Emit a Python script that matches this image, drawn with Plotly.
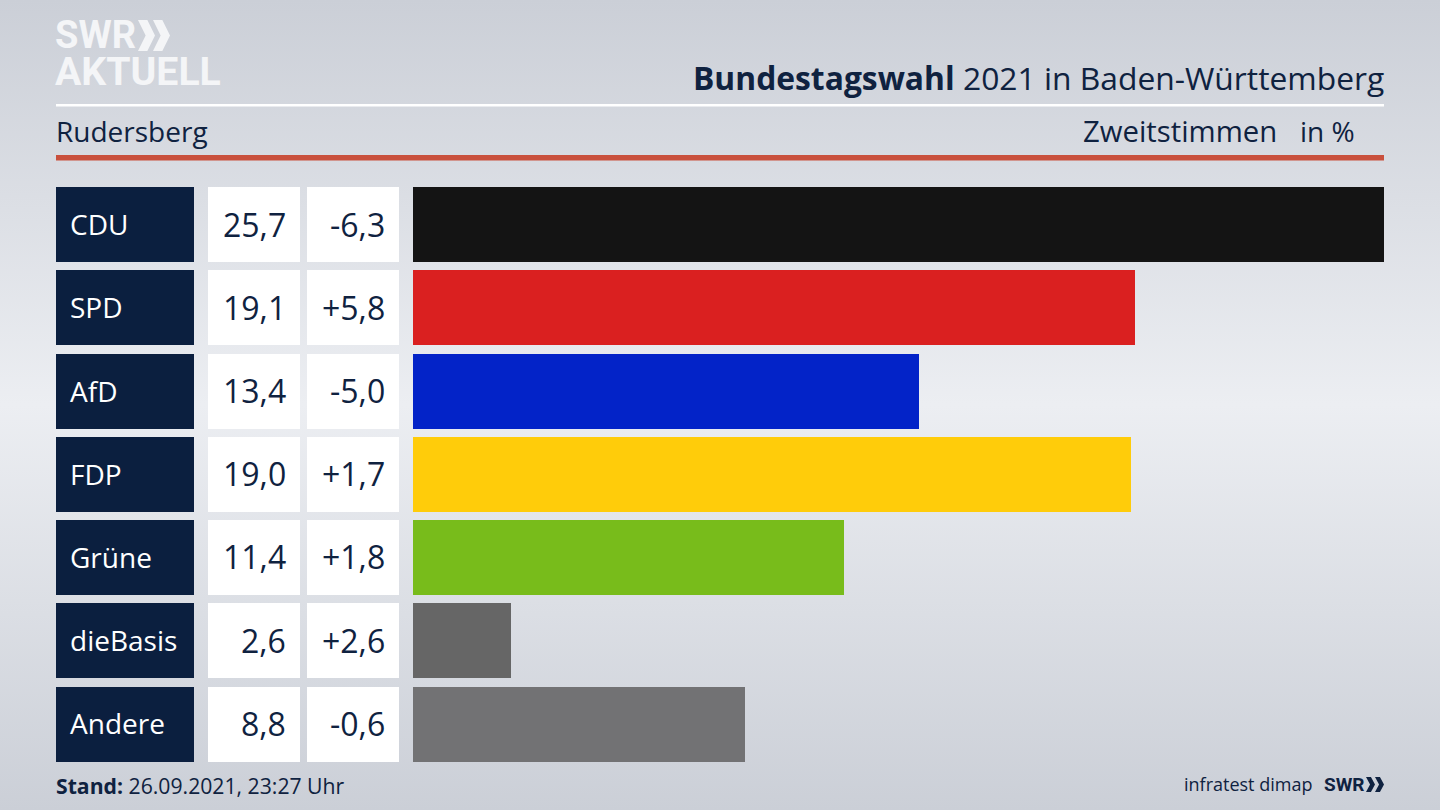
import base64
import plotly.graph_objects as go

parties = ["CDU", "SPD", "AfD", "FDP", "Grüne", "dieBasis", "Andere"]
shares = [25.7, 19.1, 13.4, 19.0, 11.4, 2.6, 8.8]
changes = [-6.3, 5.8, -5.0, 1.7, 1.8, 2.6, -0.6]
bar_colors = ["#141414", "#da2020", "#0323c8", "#ffcc0a", "#78bc1b", "#666666", "#727274"]

W, H = 1440, 810
NAVY = "#0f2240"
FONT = "Open Sans"
LOGO = "Roboto"


def px(x):
    return x / W


def py(y):
    return 1 - y / H


def de(v, signed=False):
    s = f"{v:+.1f}" if signed else f"{v:.1f}"
    return s.replace(".", ",")


svg = (
    f'<svg xmlns="http://www.w3.org/2000/svg" width="{W}" height="{H}">'
    '<defs><linearGradient id="g" x1="0" y1="0" x2="0" y2="1">'
    '<stop offset="0" stop-color="#cbcfd7"/><stop offset="0.5" stop-color="#eceef2"/>'
    '<stop offset="1" stop-color="#cbcfd7"/></linearGradient></defs>'
    f'<rect width="{W}" height="{H}" fill="url(#g)"/></svg>'
)
bg = "data:image/svg+xml;base64," + base64.b64encode(svg.encode()).decode()

fig = go.Figure()

fig.add_bar(y=parties, x=shares, orientation="h", width=0.9, marker=dict(color=bar_colors, line_width=0),
            xaxis="x", yaxis="y", showlegend=False, hoverinfo="skip")
fig.add_bar(y=parties, x=[1] * len(parties), orientation="h", width=0.9, marker=dict(color="#0b1f3f", line_width=0),
            xaxis="x2", yaxis="y", showlegend=False, hoverinfo="skip")
fig.add_bar(y=parties, x=[1] * len(parties), orientation="h", width=0.9, marker=dict(color="#ffffff", line_width=0),
            xaxis="x3", yaxis="y", showlegend=False, hoverinfo="skip")
fig.add_bar(y=parties, x=[1] * len(parties), orientation="h", width=0.9, marker=dict(color="#ffffff", line_width=0),
            xaxis="x4", yaxis="y", showlegend=False, hoverinfo="skip")

ann = []


def text(x, y, t, size, color=NAVY, anchor="left", family=FONT):
    ann.append(dict(x=px(x), y=py(y), xref="paper", yref="paper", text=t, showarrow=False,
                    xanchor=anchor, yanchor="middle", align=anchor, borderpad=0, borderwidth=0,
                    font=dict(family=family, size=size, color=color)))


for p, s, c in zip(parties, shares, changes):
    ann.append(dict(x=0, xref="x2", y=p, yref="y", text=p, showarrow=False, xanchor="left", xshift=12, yshift=1,
                    font=dict(family=FONT, size=28, color="#ffffff")))
    ann.append(dict(x=1, xref="x3", y=p, yref="y", text=de(s), showarrow=False, xanchor="right", xshift=-12, yshift=1,
                    font=dict(family=FONT, size=32, color=NAVY)))
    ann.append(dict(x=1, xref="x4", y=p, yref="y", text=de(c, True), showarrow=False, xanchor="right", xshift=-12, yshift=1,
                    font=dict(family=FONT, size=32, color=NAVY)))

text(1384, 77, "<b>Bundestagswahl</b> 2021 in Baden-Württemberg", 31.8, anchor="right")
text(56, 131, "Rudersberg", 28)
text(1277, 131, "Zweitstimmen", 29.3, anchor="right")
text(1355, 131, "in %", 28, anchor="right")
text(56, 785, "<b>Stand:</b> 26.09.2021, 23:27 Uhr", 21.2)
text(1312, 784, "infratest dimap", 18, anchor="right")
text(1324, 784, "<b>SWR</b>", 19, family=LOGO)
text(55, 35, "<b>SWR</b>", 38, color="#f4f5f7", family=LOGO)
text(55, 72, "<b>AKTUELL</b>", 39.2, color="#f4f5f7", family=LOGO)

shapes = [
    dict(type="rect", xref="paper", yref="paper", x0=px(56), x1=px(1384), y0=py(106.5), y1=py(104),
         fillcolor="#ffffff", line_width=0),
    dict(type="rect", xref="paper", yref="paper", x0=px(56), x1=px(1384), y0=py(160.5), y1=py(155),
         fillcolor="#c9503d", line_width=0),
]


def chevrons(x, y0, y1, w, gap, color):
    mid = (y0 + y1) / 2
    th = w * 0.55
    for k in range(2):
        a = x + k * gap
        pts = [(a, y0), (a + th, y0), (a + w, mid), (a + th, y1), (a, y1), (a + w - th, mid)]
        d = "M " + " L ".join(f"{px(u):.5f},{py(v):.5f}" for u, v in pts) + " Z"
        shapes.append(dict(type="path", xref="paper", yref="paper", path=d, fillcolor=color, line_width=0))


chevrons(138, 20, 51, 17, 15, "#f4f5f7")
chevrons(1366, 777, 792, 9, 9, NAVY)

ax = dict(showgrid=False, zeroline=False, showticklabels=False, ticks="", showline=False, fixedrange=True)
top, bottom = 183.4, 766.1
fig.update_layout(
    width=W, height=H, margin=dict(l=0, r=0, t=0, b=0, pad=0), autosize=False,
    paper_bgcolor="#e0e2e8", plot_bgcolor="rgba(0,0,0,0)", showlegend=False, bargap=0,
    font=dict(family=FONT, color=NAVY),
    images=[dict(source=bg, xref="paper", yref="paper", x=0, y=1, sizex=1, sizey=1, sizing="stretch",
                 xanchor="left", yanchor="top", layer="below")],
    xaxis=dict(ax, domain=[px(413), px(1384)], range=[0, 25.7], anchor="y"),
    xaxis2=dict(ax, domain=[px(56), px(194)], range=[0, 1], anchor="y"),
    xaxis3=dict(ax, domain=[px(208), px(300)], range=[0, 1], anchor="y"),
    xaxis4=dict(ax, domain=[px(307), px(399)], range=[0, 1], anchor="y"),
    yaxis=dict(ax, domain=[py(bottom), py(top)], type="category", categoryorder="array",
               categoryarray=parties, range=[6.5, -0.5], anchor="x"),
    annotations=ann, shapes=shapes,
)

fig.write_html("out.html", config=dict(displayModeBar=False),
               post_script="document.body.style.margin='0';document.documentElement.style.overflow='hidden';window.dispatchEvent(new Event('resize'));")
